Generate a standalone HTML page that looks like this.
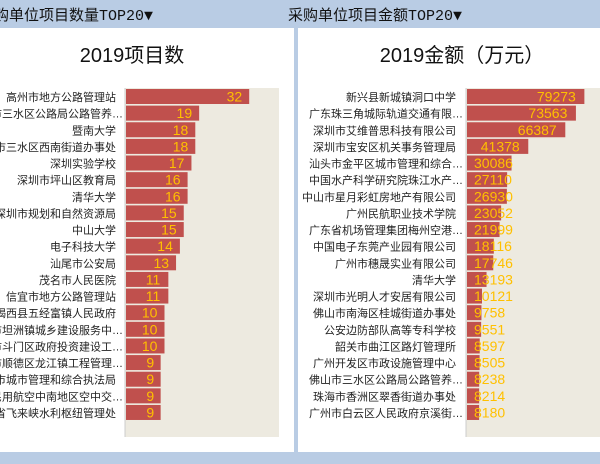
<!DOCTYPE html>
<html><head><meta charset="utf-8">
<style>
body{margin:0;width:600px;height:464px;background:#b9cce4;overflow:hidden;font-family:"Liberation Sans","Noto Sans CJK SC",sans-serif;}
svg{display:block}
</style></head><body>
<svg width="600" height="464">
<rect x="0" y="0" width="600" height="464" fill="#b9cce4"/>
<text x="153" y="20" text-anchor="end" font-size="15" font-family="'Liberation Mono','Noto Sans CJK SC',monospace" fill="#111">采购单位项目数量TOP20▼</text>
<text x="288" y="20" font-size="15" font-family="'Liberation Mono','Noto Sans CJK SC',monospace" fill="#111">采购单位项目金额TOP20▼</text>
<rect x="0" y="28" width="294" height="424" fill="#fff"/>
<rect x="298" y="28" width="302" height="424" fill="#fff"/>
<text x="132" y="62" text-anchor="middle" font-size="20" fill="#111">2019项目数</text>
<text x="462" y="62" text-anchor="middle" font-size="20" fill="#111">2019金额（万元）</text>
<g id="left"></g>
<g id="right"></g>
</svg>
<script>
const leftCategories=["高州市地方公路管理站","佛山市三水区公路局公路管养…","暨南大学","佛山市三水区西南街道办事处","深圳实验学校","深圳市坪山区教育局","清华大学","深圳市规划和自然资源局","中山大学","电子科技大学","汕尾市公安局","茂名市人民医院","信宜市地方公路管理站","揭西县五经富镇人民政府","中山市坦洲镇城乡建设服务中…","珠海市斗门区政府投资建设工…","佛山市顺德区龙江镇工程管理…","深圳市城市管理和综合执法局","中国民用航空中南地区空中交…","广东省飞来峡水利枢纽管理处"];
const leftValues=[32,19,18,18,17,16,16,15,15,14,13,11,11,10,10,10,9,9,9,9];
const rightCategories=["新兴县新城镇洞口中学","广东珠三角城际轨道交通有限…","深圳市艾维普思科技有限公司","深圳市宝安区机关事务管理局","汕头市金平区城市管理和综合…","中国水产科学研究院珠江水产…","中山市星月彩虹房地产有限公司","广州民航职业技术学院","广东省机场管理集团梅州空港…","中国电子东莞产业园有限公司","广州市穗晟实业有限公司","清华大学","深圳市光明人才安居有限公司","佛山市南海区桂城街道办事处","公安边防部队高等专科学校","韶关市曲江区路灯管理所","广州开发区市政设施管理中心","佛山市三水区公路局公路管养…","珠海市香洲区翠香街道办事处","广州市白云区人民政府京溪街…"];
const rightValues=[79273,73563,66387,41378,30086,27110,26930,23052,21999,18116,17746,13193,10121,9758,9551,8597,8505,8238,8214,8180];
const NS="http://www.w3.org/2000/svg";
function mk(t,a,p){const e=document.createElementNS(NS,t);for(const k in a)e.setAttribute(k,a[k]);p.appendChild(e);return e;}
function chart(g,cats,vals,x0,x1,max,labelX,prefix){
  const top=88,bottom=437,rowH=16.63,barH=15,y0=89;
  const bg=mk('rect',{x:x0,y:top,width:x1-x0,height:bottom-top,fill:'#edeae0'},g);
  
  
  const ax=mk('line',{x1:x0,y1:top,x2:x0,y2:bottom,stroke:'#ccc'},g);
  
  
  const sx=v=>(x0+1)+v/max*(x1-x0);
  cats.forEach((c,i)=>{
    const y=y0+i*rowH;
    const lab=mk('text',{x:c.endsWith('…')?labelX+7:labelX,y:y+12,'text-anchor':'end','font-size':11,fill:'#222'},g);
    lab.textContent=c;
    
    
    const xe=sx(vals[i]);
    const b=mk('rect',{x:x0+1,y:y,width:xe-x0-1,height:barH,fill:'#c0504d'},g);
    
    
    const s=String(vals[i]);const w=s.length*8.3;
    let tx=xe-6-w; if(tx<x0+8) tx=x0+8;
    const v=mk('text',{x:tx,y:y+12.5,'font-size':14,fill:'#ffc000'},g);
    v.textContent=s;
    
    
  });
}
chart(document.getElementById('left'),leftCategories,leftValues,125,279,40,116,'left');
chart(document.getElementById('right'),rightCategories,rightValues,466,600,90500,456,'right');
</script>
</body></html>
